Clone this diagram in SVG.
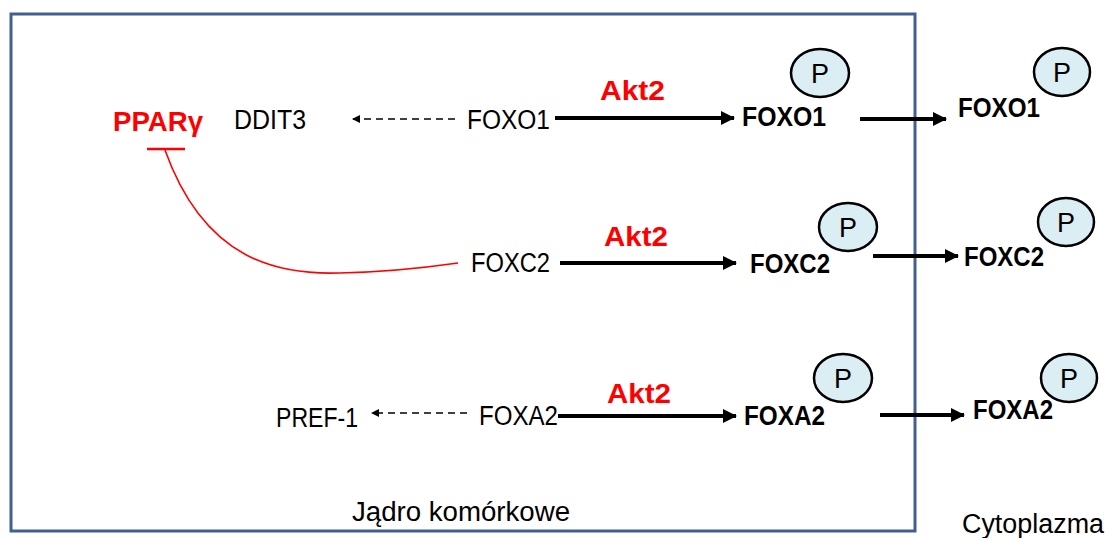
<svg xmlns="http://www.w3.org/2000/svg" width="1105" height="538" viewBox="0 0 1105 538">
<style>
text{font-family:"Liberation Sans",Arial,sans-serif;font-size:27px;fill:#000}
.b{font-weight:bold}
.red{fill:#ff0000;font-weight:bold;font-size:28px}
.p{font-size:27px;text-anchor:middle}
.solid{stroke:#000;stroke-width:4;fill:none}
.dash{stroke:#000;stroke-width:1.5;stroke-dasharray:7 5;fill:none}
.pc{fill:#dbeef4;stroke:#000;stroke-width:2.5}
</style>
<defs>
<marker id="ah" markerUnits="userSpaceOnUse" markerWidth="14" markerHeight="14" refX="13" refY="7" orient="auto">
<path d="M0,0 L14,7 L0,14 Z" fill="#000"/>
</marker>
<marker id="sh" markerUnits="userSpaceOnUse" markerWidth="8" markerHeight="8" refX="7" refY="4" orient="auto">
<path d="M0,0 L8,4 L0,8 Z" fill="#000"/>
</marker>
</defs>
<rect id="nucleus" x="11" y="14" width="904" height="517" fill="none" stroke="#41608f" stroke-width="3"/>
<g id="labels">
<text x="352" y="521" textLength="218" lengthAdjust="spacingAndGlyphs">Jądro komórkowe</text>
<text x="962" y="533" textLength="142" lengthAdjust="spacingAndGlyphs">Cytoplazma</text>
</g>
<g id="connectors">
<line class="dash" x1="455" y1="119" x2="353" y2="119" marker-end="url(#sh)"/>
<line class="solid" x1="555" y1="118" x2="734" y2="118" marker-end="url(#ah)"/>
<line class="solid" x1="860" y1="119" x2="946" y2="119" marker-end="url(#ah)"/>
<line class="solid" x1="560" y1="263" x2="736" y2="263" marker-end="url(#ah)"/>
<line class="solid" x1="873" y1="256" x2="958" y2="256" marker-end="url(#ah)"/>
<line class="dash" x1="467" y1="413" x2="372" y2="413" marker-end="url(#sh)"/>
<line class="solid" x1="558" y1="416" x2="736" y2="416" marker-end="url(#ah)"/>
<line class="solid" x1="880" y1="415" x2="964" y2="415" marker-end="url(#ah)"/>
<path d="M165,150 C205,262 280,275 340,273 C390,272 430,267 458,263" fill="none" stroke="#ff0000" stroke-width="1.6"/>
<line x1="147" y1="149" x2="185" y2="149" stroke="#ff0000" stroke-width="2.5"/>
<text class="red" x="600" y="100" textLength="65" lengthAdjust="spacingAndGlyphs">Akt2</text>
<text class="red" x="604" y="246" textLength="64" lengthAdjust="spacingAndGlyphs">Akt2</text>
<text class="red" x="607" y="403" textLength="64" lengthAdjust="spacingAndGlyphs">Akt2</text>
</g>
<g id="ppar"><text class="red" x="113" y="131" textLength="90" lengthAdjust="spacingAndGlyphs">PPARγ</text></g>
<g id="ddit3"><text x="234" y="129" textLength="72" lengthAdjust="spacingAndGlyphs">DDIT3</text></g>
<g id="foxo1"><text x="467" y="129" textLength="83" lengthAdjust="spacingAndGlyphs">FOXO1</text></g>
<g id="foxo1p">
<ellipse class="pc" cx="820" cy="73" rx="29" ry="24"/><text class="p" x="820" y="83">P</text>
<text class="b" x="742" y="126" textLength="84" lengthAdjust="spacingAndGlyphs">FOXO1</text>
</g>
<g id="foxo1c">
<ellipse class="pc" cx="1062" cy="72" rx="28" ry="24"/><text class="p" x="1062" y="82">P</text>
<text class="b" x="958" y="117" textLength="82" lengthAdjust="spacingAndGlyphs">FOXO1</text>
</g>
<g id="foxc2"><text x="471" y="272" textLength="79" lengthAdjust="spacingAndGlyphs">FOXC2</text></g>
<g id="foxc2p">
<ellipse class="pc" cx="848" cy="227" rx="29" ry="24"/><text class="p" x="848" y="237">P</text>
<text class="b" x="750" y="273" textLength="80" lengthAdjust="spacingAndGlyphs">FOXC2</text>
</g>
<g id="foxc2c">
<ellipse class="pc" cx="1066" cy="222" rx="28" ry="24"/><text class="p" x="1066" y="232">P</text>
<text class="b" x="964" y="266" textLength="80" lengthAdjust="spacingAndGlyphs">FOXC2</text>
</g>
<g id="pref1"><text x="276" y="427" textLength="82" lengthAdjust="spacingAndGlyphs">PREF-1</text></g>
<g id="foxa2"><text x="479" y="425" textLength="79" lengthAdjust="spacingAndGlyphs">FOXA2</text></g>
<g id="foxa2p">
<ellipse class="pc" cx="843" cy="378" rx="29" ry="24"/><text class="p" x="843" y="388">P</text>
<text class="b" x="744" y="425" textLength="81" lengthAdjust="spacingAndGlyphs">FOXA2</text>
</g>
<g id="foxa2c">
<ellipse class="pc" cx="1069" cy="378" rx="28" ry="24"/><text class="p" x="1069" y="388">P</text>
<text class="b" x="973" y="419" textLength="80" lengthAdjust="spacingAndGlyphs">FOXA2</text>
</g>
</svg>
